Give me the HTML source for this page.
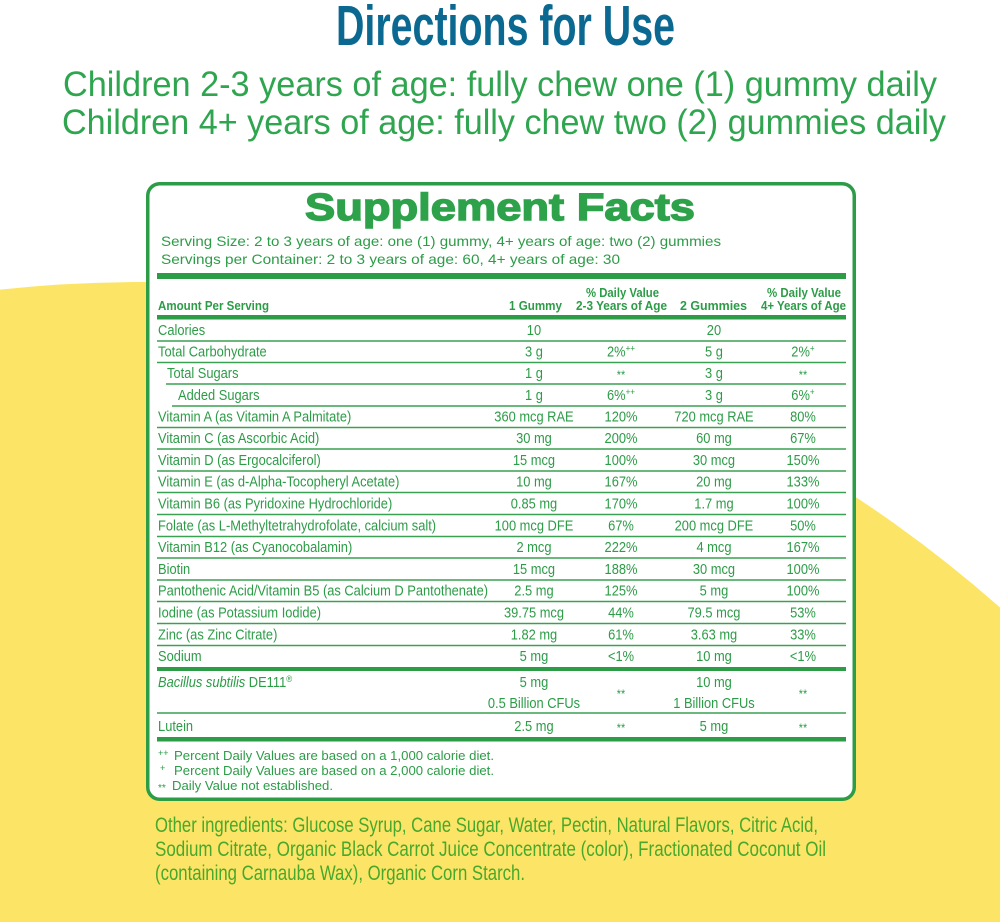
<!DOCTYPE html>
<html>
<head>
<meta charset="utf-8">
<style>
  html,body{margin:0;padding:0;background:#ffffff;width:1000px;height:922px;overflow:hidden;}
  svg{display:block;overflow:hidden;}
  text{font-family:"Liberation Sans", Arial, sans-serif;}
</style>
</head>
<body>
<svg width="1000" height="922" viewBox="0 0 1000 922" overflow="hidden" xmlns="http://www.w3.org/2000/svg">
  <rect x="0" y="0" width="1000" height="922" fill="#ffffff"/>
  <!-- yellow background shape (arc kept inside the frame) -->
  <path d="M0,289.6 A1299,1299 0 0 1 1000,607.5 L1000,922 L0,922 Z" fill="#fce566"/>

  <!-- Directions -->
  <text x="336" y="45" font-size="57" font-weight="bold" fill="#0b6890" textLength="339" lengthAdjust="spacingAndGlyphs">Directions for Use</text>
  <text x="63" y="96" font-size="35" fill="#2fa54f" textLength="874" lengthAdjust="spacingAndGlyphs">Children 2-3 years of age: fully chew one (1) gummy daily</text>
  <text x="62" y="134" font-size="35" fill="#2fa54f" textLength="884" lengthAdjust="spacingAndGlyphs">Children 4+ years of age: fully chew two (2) gummies daily</text>

  <!-- Box -->
  <rect x="147.75" y="183.75" width="706.5" height="615.5" rx="12" ry="12" fill="#ffffff" stroke="#2c9c47" stroke-width="3.5"/>

  <text x="305" y="220" font-size="38" font-weight="bold" fill="#2ea24a" stroke="#2ea24a" stroke-width="1.4" textLength="390" lengthAdjust="spacingAndGlyphs">Supplement Facts</text>

  <g fill="#2c9c47">
    <text x="161" y="246" font-size="14" textLength="560" lengthAdjust="spacingAndGlyphs">Serving Size: 2 to 3 years of age: one (1) gummy, 4+ years of age: two (2) gummies</text>
    <text x="161" y="264" font-size="14" textLength="459" lengthAdjust="spacingAndGlyphs">Servings per Container: 2 to 3 years of age: 60, 4+ years of age: 30</text>

    <!-- bars -->
    <rect x="157" y="273" width="689" height="6"/>
    <rect x="157" y="315" width="689" height="4.5"/>
    <rect x="157" y="667" width="689" height="4"/>
    <rect x="157" y="737" width="689" height="4.5"/>

    <!-- header -->
    <g font-weight="bold" font-size="13">
      <text x="158" y="310" textLength="111" lengthAdjust="spacingAndGlyphs">Amount Per Serving</text>
      <text x="509" y="310" textLength="53" lengthAdjust="spacingAndGlyphs">1 Gummy</text>
      <text x="586" y="297" textLength="73" lengthAdjust="spacingAndGlyphs">% Daily Value</text>
      <text x="576" y="310" textLength="91" lengthAdjust="spacingAndGlyphs">2-3 Years of Age</text>
      <text x="680" y="310" textLength="67" lengthAdjust="spacingAndGlyphs">2 Gummies</text>
      <text x="767" y="297" textLength="74" lengthAdjust="spacingAndGlyphs">% Daily Value</text>
      <text x="761" y="310" textLength="85" lengthAdjust="spacingAndGlyphs">4+ Years of Age</text>
    </g>
  </g>

  <!-- thin row lines -->
  <g stroke="#3aa152" stroke-width="1.6">
    <line x1="157" y1="341" x2="846" y2="341"/>
    <line x1="157" y1="362.5" x2="846" y2="362.5"/>
    <line x1="166" y1="384" x2="846" y2="384"/>
    <line x1="172" y1="406" x2="846" y2="406"/>
    <line x1="157" y1="427.5" x2="846" y2="427.5"/>
    <line x1="157" y1="449" x2="846" y2="449"/>
    <line x1="157" y1="471" x2="846" y2="471"/>
    <line x1="157" y1="492.5" x2="846" y2="492.5"/>
    <line x1="157" y1="514.5" x2="846" y2="514.5"/>
    <line x1="157" y1="536.5" x2="846" y2="536.5"/>
    <line x1="157" y1="558" x2="846" y2="558"/>
    <line x1="157" y1="580" x2="846" y2="580"/>
    <line x1="157" y1="601.5" x2="846" y2="601.5"/>
    <line x1="157" y1="623.5" x2="846" y2="623.5"/>
    <line x1="157" y1="645.5" x2="846" y2="645.5"/>
    <line x1="157" y1="713" x2="846" y2="713"/>
  </g>

  <!-- table rows (condensed via scale) -->
  <g transform="scale(0.9 1)" fill="#2c9c47" font-size="14.3">
    <g>
      <text x="175.6" y="335">Calories</text>
      <text x="175.6" y="356.5">Total Carbohydrate</text>
      <text x="185.6" y="378">Total Sugars</text>
      <text x="197.8" y="400">Added Sugars</text>
      <text x="175.6" y="421.5">Vitamin A (as Vitamin A Palmitate)</text>
      <text x="175.6" y="443">Vitamin C (as Ascorbic Acid)</text>
      <text x="175.6" y="465">Vitamin D (as Ergocalciferol)</text>
      <text x="175.6" y="486.5">Vitamin E (as d-Alpha-Tocopheryl Acetate)</text>
      <text x="175.6" y="508.5">Vitamin B6 (as Pyridoxine Hydrochloride)</text>
      <text x="175.6" y="530.5">Folate (as L-Methyltetrahydrofolate, calcium salt)</text>
      <text x="175.6" y="552">Vitamin B12 (as Cyanocobalamin)</text>
      <text x="175.6" y="574">Biotin</text>
      <text x="175.6" y="595.5">Pantothenic Acid/Vitamin B5 (as Calcium D Pantothenate)</text>
      <text x="175.6" y="617.5">Iodine (as Potassium Iodide)</text>
      <text x="175.6" y="639.5">Zinc (as Zinc Citrate)</text>
      <text x="175.6" y="661">Sodium</text>
      <text x="175.6" y="687"><tspan font-style="italic">Bacillus subtilis</tspan> DE111<tspan font-size="9" dy="-5">®</tspan></text>
      <text x="175.6" y="731">Lutein</text>
    </g>
    <!-- column 1 -->
    <g text-anchor="middle">
      <text x="593.3" y="335">10</text>
      <text x="593.3" y="356.5">3 g</text>
      <text x="593.3" y="378">1 g</text>
      <text x="593.3" y="400">1 g</text>
      <text x="593.3" y="421.5">360 mcg RAE</text>
      <text x="593.3" y="443">30 mg</text>
      <text x="593.3" y="465">15 mcg</text>
      <text x="593.3" y="486.5">10 mg</text>
      <text x="593.3" y="508.5">0.85 mg</text>
      <text x="593.3" y="530.5">100 mcg DFE</text>
      <text x="593.3" y="552">2 mcg</text>
      <text x="593.3" y="574">15 mcg</text>
      <text x="593.3" y="595.5">2.5 mg</text>
      <text x="593.3" y="617.5">39.75 mcg</text>
      <text x="593.3" y="639.5">1.82 mg</text>
      <text x="593.3" y="661">5 mg</text>
      <text x="593.3" y="687">5 mg</text>
      <text x="593.3" y="708">0.5 Billion CFUs</text>
      <text x="593.3" y="731">2.5 mg</text>
    </g>
    <!-- column 2 -->
    <g text-anchor="middle">
      <text x="690" y="356.5">2%<tspan font-size="9" dy="-5">++</tspan></text>
      <text x="690" y="379" font-size="12">**</text>
      <text x="690" y="400">6%<tspan font-size="9" dy="-5">++</tspan></text>
      <text x="690" y="421.5">120%</text>
      <text x="690" y="443">200%</text>
      <text x="690" y="465">100%</text>
      <text x="690" y="486.5">167%</text>
      <text x="690" y="508.5">170%</text>
      <text x="690" y="530.5">67%</text>
      <text x="690" y="552">222%</text>
      <text x="690" y="574">188%</text>
      <text x="690" y="595.5">125%</text>
      <text x="690" y="617.5">44%</text>
      <text x="690" y="639.5">61%</text>
      <text x="690" y="661">&lt;1%</text>
      <text x="690" y="698" font-size="12">**</text>
      <text x="690" y="732" font-size="12">**</text>
    </g>
    <!-- column 3 -->
    <g text-anchor="middle">
      <text x="793.3" y="335">20</text>
      <text x="793.3" y="356.5">5 g</text>
      <text x="793.3" y="378">3 g</text>
      <text x="793.3" y="400">3 g</text>
      <text x="793.3" y="421.5">720 mcg RAE</text>
      <text x="793.3" y="443">60 mg</text>
      <text x="793.3" y="465">30 mcg</text>
      <text x="793.3" y="486.5">20 mg</text>
      <text x="793.3" y="508.5">1.7 mg</text>
      <text x="793.3" y="530.5">200 mcg DFE</text>
      <text x="793.3" y="552">4 mcg</text>
      <text x="793.3" y="574">30 mcg</text>
      <text x="793.3" y="595.5">5 mg</text>
      <text x="793.3" y="617.5">79.5 mcg</text>
      <text x="793.3" y="639.5">3.63 mg</text>
      <text x="793.3" y="661">10 mg</text>
      <text x="793.3" y="687">10 mg</text>
      <text x="793.3" y="708">1 Billion CFUs</text>
      <text x="793.3" y="731">5 mg</text>
    </g>
    <!-- column 4 -->
    <g text-anchor="middle">
      <text x="892.2" y="356.5">2%<tspan font-size="9" dy="-5">+</tspan></text>
      <text x="892.2" y="379" font-size="12">**</text>
      <text x="892.2" y="400">6%<tspan font-size="9" dy="-5">+</tspan></text>
      <text x="892.2" y="421.5">80%</text>
      <text x="892.2" y="443">67%</text>
      <text x="892.2" y="465">150%</text>
      <text x="892.2" y="486.5">133%</text>
      <text x="892.2" y="508.5">100%</text>
      <text x="892.2" y="530.5">50%</text>
      <text x="892.2" y="552">167%</text>
      <text x="892.2" y="574">100%</text>
      <text x="892.2" y="595.5">100%</text>
      <text x="892.2" y="617.5">53%</text>
      <text x="892.2" y="639.5">33%</text>
      <text x="892.2" y="661">&lt;1%</text>
      <text x="892.2" y="698" font-size="12">**</text>
      <text x="892.2" y="732" font-size="12">**</text>
    </g>
  </g>

  <!-- footnotes -->
  <g fill="#2c9c47">
    <text x="158" y="756" font-size="9">++</text>
    <text x="174" y="760" font-size="12.5" textLength="320" lengthAdjust="spacingAndGlyphs">Percent Daily Values are based on a 1,000 calorie diet.</text>
    <text x="160" y="771" font-size="9">+</text>
    <text x="174" y="775" font-size="12.5" textLength="320" lengthAdjust="spacingAndGlyphs">Percent Daily Values are based on a 2,000 calorie diet.</text>
    <text x="158" y="791" font-size="10">**</text>
    <text x="172" y="790" font-size="12.5" textLength="161" lengthAdjust="spacingAndGlyphs">Daily Value not established.</text>
  </g>

  <!-- other ingredients -->
  <g fill="#48a82c" font-size="21">
    <text x="155" y="832" textLength="663" lengthAdjust="spacingAndGlyphs">Other ingredients: Glucose Syrup, Cane Sugar, Water, Pectin, Natural Flavors, Citric Acid,</text>
    <text x="155" y="856" textLength="671" lengthAdjust="spacingAndGlyphs">Sodium Citrate, Organic Black Carrot Juice Concentrate (color), Fractionated Coconut Oil</text>
    <text x="155" y="880" textLength="370" lengthAdjust="spacingAndGlyphs">(containing Carnauba Wax), Organic Corn Starch.</text>
  </g>
</svg>
</body>
</html>
